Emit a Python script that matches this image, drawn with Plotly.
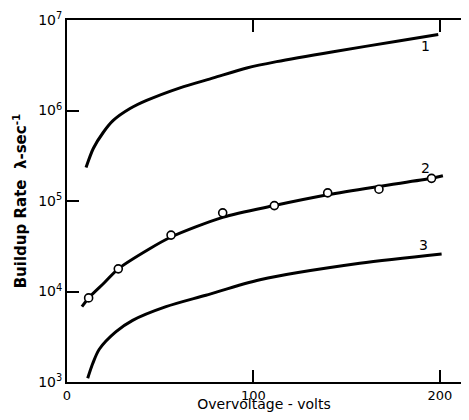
import math
import plotly.graph_objects as go

# Curve 1 (line only)
c1_x = [10.2, 14.1, 19.5, 24.8, 33.8, 42.7, 60.6, 78.5, 96.4, 112.4, 142.8, 178.6, 199.1]
c1_y = [2.34e5, 3.8e5, 5.75e5, 7.76e5, 1.05e6, 1.29e6, 1.78e6, 2.29e6, 2.95e6, 3.47e6, 4.47e6, 5.89e6, 6.92e6]

# Curve 2 (smooth line)
c2_x = [8.0, 11.6, 20.0, 27.5, 44.1, 55.8, 83.5, 111.2, 139.8, 167.3, 195.5, 201.6]
c2_y = [6.8e3, 8.5e3, 1.25e4, 1.78e4, 2.95e4, 4.0e4, 6.6e4, 8.9e4, 1.17e5, 1.45e5, 1.78e5, 1.9e5]

# Curve 2 measured points (open circles)
p2_x = [11.6, 27.5, 55.8, 83.5, 111.2, 139.8, 167.3, 195.5]
p2_y = [8.5e3, 1.78e4, 4.2e4, 7.4e4, 8.9e4, 1.23e5, 1.35e5, 1.78e5]

# Curve 3 (line only)
c3_x = [11.1, 13.8, 17.3, 26.3, 35.2, 53.1, 74.5, 103.5, 157.0, 200.9]
c3_y = [1.1e3, 1.6e3, 2.3e3, 3.6e3, 4.8e3, 6.8e3, 9.1e3, 1.35e4, 2.05e4, 2.6e4]

curve_labels = ["1", "2", "3"]
label_x = [192, 192, 191]
label_y = [6.71, 5.36, 4.51]  # log10 positions

x_ticks = [0, 100, 200]
y_ticks = [1e3, 1e4, 1e5, 1e6, 1e7]
y_tick_text = ["10<sup>3</sup>", "10<sup>4</sup>", "10<sup>5</sup>", "10<sup>6</sup>", "10<sup>7</sup>"]
right_ticks = [1e4, 1e5, 1e6]

FONT = "DejaVu Sans"
WIDTH, HEIGHT = 453, 404
MARGIN = dict(l=59, r=0, t=12, b=23)
TICKLEN = 12

fig = go.Figure()
line_style = dict(color="black", width=3, shape="spline", smoothing=0.8)
fig.add_trace(go.Scatter(x=c1_x, y=c1_y, mode="lines", line=line_style, hoverinfo="skip"))
fig.add_trace(go.Scatter(x=c2_x, y=c2_y, mode="lines", line=line_style, hoverinfo="skip"))
fig.add_trace(go.Scatter(x=c3_x, y=c3_y, mode="lines", line=line_style, hoverinfo="skip"))
fig.add_trace(go.Scatter(x=p2_x, y=p2_y, mode="markers", hoverinfo="skip",
                         marker=dict(symbol="circle", size=8, color="white",
                                     line=dict(color="black", width=1.6))))

for t, lx, ly in zip(curve_labels, label_x, label_y):
    fig.add_annotation(x=lx, y=ly, text=t, showarrow=False,
                       font=dict(family=FONT, size=14, color="black"))

# Right-hand tick marks (no axis line on that side), placed on the y axis scale
plot_w = WIDTH - MARGIN["l"] - MARGIN["r"]
for v in right_ticks:
    fig.add_shape(type="line", xref="x domain", yref="y",
                  x0=1 - TICKLEN / plot_w, x1=1, y0=math.log10(v), y1=math.log10(v),
                  line=dict(color="black", width=1.5))

# The page body adds an 8px margin on every side, so the figure is sized to fit the window.
fig.update_layout(
    width=WIDTH, height=HEIGHT,
    margin=MARGIN,
    paper_bgcolor="white", plot_bgcolor="white",
    showlegend=False,
    font=dict(family=FONT, color="black"),
    xaxis=dict(range=[0, 211.3], tickvals=x_ticks, ticks="inside", ticklen=TICKLEN,
               tickwidth=1.5, tickcolor="black", showline=True, linecolor="black",
               linewidth=2, mirror="ticks", showgrid=False, zeroline=False,
               tickfont=dict(family=FONT, size=13),
               title=dict(text="Overvoltage - volts", font=dict(family=FONT, size=14), standoff=0)),
    yaxis=dict(type="log", range=[3, 7], tickvals=y_ticks, ticktext=y_tick_text,
               ticks="inside", ticklen=TICKLEN, tickwidth=1.5, tickcolor="black",
               showline=True, linecolor="black", linewidth=2, mirror=False,
               showgrid=False, zeroline=False,
               tickfont=dict(family=FONT, size=14),
               title=dict(text="<b>Buildup Rate  λ-sec<sup>-1</sup></b>",
                          font=dict(family=FONT, size=15), standoff=8)),
)

fig.write_html("out.html")
